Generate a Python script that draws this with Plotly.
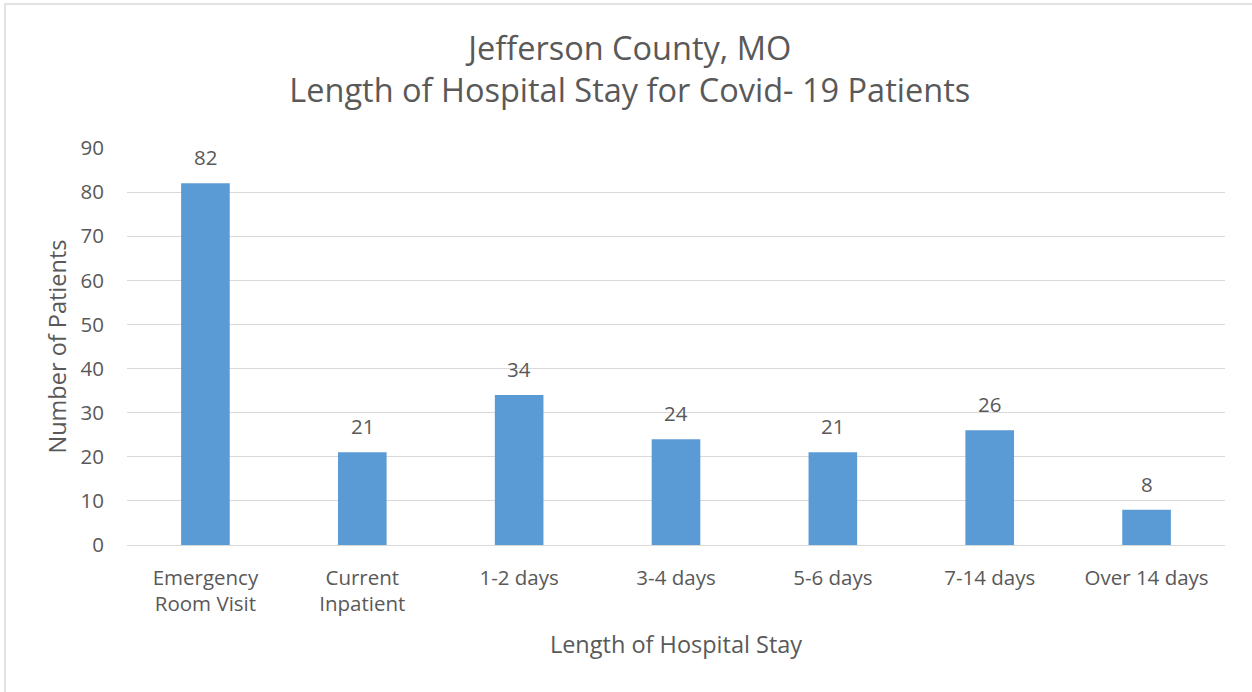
import plotly.graph_objects as go

categories = ["Emergency<br>Room Visit", "Current<br>Inpatient", "1-2 days", "3-4 days",
              "5-6 days", "7-14 days", "Over 14 days"]
patients = [82, 21, 34, 24, 21, 26, 8]
y_ticks = [0, 10, 20, 30, 40, 50, 60, 70, 80, 90]

FONT = "'Open Sans', sans-serif"
GRAY = "#595959"
TS = 20.5

fig = go.Figure()
fig.add_trace(go.Bar(
    x=categories, y=patients,
    marker=dict(color="#5B9BD5", line=dict(width=0)),
    hoverinfo="x+y",
))

for c, v in zip(categories, patients):
    fig.add_annotation(x=c, y=v, text=str(v), showarrow=False,
                       yanchor="bottom", yshift=10,
                       font=dict(family=FONT, size=TS, color=GRAY))

fig.update_layout(
    width=1252, height=692,
    paper_bgcolor="white", plot_bgcolor="white",
    margin=dict(l=127, r=27, t=148, b=147),
    bargap=0.69,
    showlegend=False,
    font=dict(family=FONT, color=GRAY, size=TS),
    title=dict(text="Jefferson County, MO<br>Length of Hospital Stay for Covid- 19 Patients",
               x=0.503, xanchor="center", xref="container",
               y=0.914, yanchor="top",
               font=dict(family=FONT, size=32.5, color=GRAY)),
    xaxis=dict(
        title=dict(text="Length of Hospital Stay", font=dict(size=23.5, color=GRAY), standoff=20),
        tickfont=dict(size=TS, color=GRAY),
        showgrid=False, showline=False, ticks="outside", ticklen=14,
        tickcolor="rgba(0,0,0,0)",
    ),
    yaxis=dict(
        title=dict(text="Number of Patients", font=dict(size=23.5, color=GRAY), standoff=7),
        range=[0, 90], tickvals=y_ticks,
        tickfont=dict(size=TS, color=GRAY),
        showgrid=True, gridcolor="#D9D9D9", gridwidth=1.3,
        zeroline=True, zerolinecolor="#D9D9D9", zerolinewidth=1.3,
        showline=False, ticks="outside", ticklen=18, tickcolor="rgba(0,0,0,0)",
    ),
    shapes=[dict(type="rect", xref="paper", yref="paper",
                 x0=-122/1098, x1=1.05, y0=-1.0, y1=1 + 144/397,
                 line=dict(color="#D9D9D9", width=1.5), fillcolor="rgba(0,0,0,0)",
                 layer="below")],
)

fig.write_html("out.html", config={"displayModeBar": False},
               post_script="document.body.style.margin='0';")
